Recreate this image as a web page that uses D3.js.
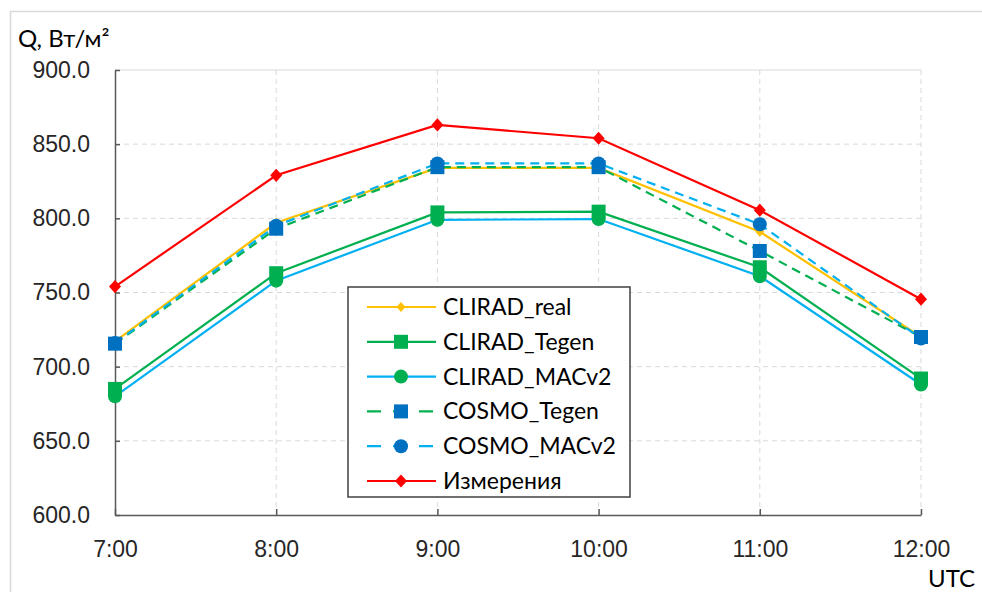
<!DOCTYPE html>
<html>
<head>
<meta charset="utf-8">
<script src="https://cdn.jsdelivr.net/npm/d3@7"></script>
<style>
  body { margin: 0; background: #fff; }
  svg { font-family: "Lato", "Open Sans", sans-serif; }
</style>
</head>
<body>
<div id="chart"></div>
<script>
const hours = ["7:00", "8:00", "9:00", "10:00", "11:00", "12:00"];
const yTicks = [600, 650, 700, 750, 800, 850, 900];

const clirad_real = [717, 797, 834, 834, 791, 720];
const clirad_tegen = [685, 763, 804, 804.5, 767, 692];
const clirad_macv2 = [680, 758, 799, 799.5, 761, 688];
const cosmo_tegen = [715.5, 793, 834.5, 834.5, 778, 720];
const cosmo_macv2 = [716, 795, 837, 837, 796, 719];
const measured = [754, 829, 863, 854, 805.5, 745.5];

const series = [
    { name: "CLIRAD_real", values: clirad_real, line: "#FFC000", fill: "#FFC000", shape: "diamond", size: 9, dash: null },
    { name: "CLIRAD_Tegen", values: clirad_tegen, line: "#00B050", fill: "#00B050", shape: "square", size: 14, dash: null },
    { name: "CLIRAD_MACv2", values: clirad_macv2, line: "#00B0F0", fill: "#00B050", shape: "circle", size: 14, dash: null },
    { name: "COSMO_Tegen", values: cosmo_tegen, line: "#00B050", fill: "#0070C0", shape: "square", size: 14, dash: "9,6" },
    { name: "COSMO_MACv2", values: cosmo_macv2, line: "#00B0F0", fill: "#0070C0", shape: "circle", size: 14, dash: "9,6" },
    { name: "Измерения", values: measured, line: "#FF0000", fill: "#FF0000", shape: "diamond", size: 12, dash: null }
];

const W = 982, H = 592;
const margin = { top: 70, right: 61, bottom: 77, left: 115 };
const width = W - margin.left - margin.right,
    height = H - margin.top - margin.bottom;

const svg = d3.select("#chart").append("svg")
    .attr("width", W)
    .attr("height", H);

// outer frame
svg.append("rect")
    .attr("x", 10.5).attr("y", 11.5)
    .attr("width", W).attr("height", H)
    .attr("fill", "none")
    .attr("stroke", "#d9d9d9")
    .attr("stroke-width", 1.5);

const g = svg.append("g")
    .attr("transform", `translate(${margin.left}, ${margin.top})`);

const x = d3.scalePoint().domain(hours).range([0, width]);
const y = d3.scaleLinear().domain([600, 900]).range([height, 0]);

// grid
g.selectAll(".hgrid")
    .data(yTicks.slice(1))
    .enter().append("line")
    .attr("x1", 0).attr("x2", width)
    .attr("y1", d => y(d)).attr("y2", d => y(d))
    .attr("stroke", "#d9d9d9")
    .attr("stroke-dasharray", d => d === 900 ? null : "5,4");

g.selectAll(".vgrid")
    .data(hours.slice(1))
    .enter().append("line")
    .attr("x1", d => x(d)).attr("x2", d => x(d))
    .attr("y1", 0).attr("y2", height)
    .attr("stroke", "#d9d9d9")
    .attr("stroke-dasharray", "5,4");

// axes
const yAxis = g.append("g")
    .call(d3.axisLeft(y).tickValues(yTicks).tickFormat(d3.format(".1f")).tickSizeInner(-5).tickSizeOuter(0).tickPadding(25));
const xAxis = g.append("g")
    .attr("transform", `translate(0, ${height})`)
    .call(d3.axisBottom(x).tickSizeInner(-6).tickSizeOuter(0).tickPadding(26));

[yAxis, xAxis].forEach(a => {
    a.select(".domain").attr("stroke", "#595959").attr("stroke-width", 1.5);
    a.selectAll(".tick line").attr("stroke", "#595959").attr("stroke-width", 1.5);
    a.selectAll("text").attr("fill", "#262626").style("font-size", "23px");
});

svg.append("text")
    .attr("x", 18).attr("y", 47)
    .attr("fill", "#000")
    .style("font-size", "24px")
    .text("Q, Вт/м²");

svg.append("text")
    .attr("x", 928).attr("y", 587)
    .attr("fill", "#000")
    .style("font-size", "24px")
    .text("UTC");

function drawMarker(sel, s) {
    const r = s.size / 2;
    if (s.shape === "circle") {
        sel.append("circle").attr("r", r).attr("fill", s.fill);
    } else if (s.shape === "square") {
        sel.append("rect").attr("x", -r).attr("y", -r)
            .attr("width", s.size).attr("height", s.size).attr("fill", s.fill);
    } else {
        sel.append("path")
            .attr("d", `M0,${-r * 1.1}L${r},0L0,${r * 1.1}L${-r},0Z`)
            .attr("fill", s.fill);
    }
}

const line = d3.line()
    .x((d, i) => x(hours[i]))
    .y(d => y(d));

series.forEach(s => {
    g.append("path")
        .datum(s.values)
        .attr("d", line)
        .attr("fill", "none")
        .attr("stroke", s.line)
        .attr("stroke-width", 2.2)
        .attr("stroke-dasharray", s.dash);
});

series.forEach(s => {
    g.selectAll(null)
        .data(s.values)
        .enter().append("g")
        .attr("transform", (d, i) => `translate(${x(hours[i])}, ${y(d)})`)
        .each(function () { drawMarker(d3.select(this), s); });
});

// legend
const legend = svg.append("g").attr("transform", "translate(348, 287)");
legend.append("rect")
    .attr("width", 282).attr("height", 210)
    .attr("fill", "#fff")
    .attr("stroke", "#404040")
    .attr("stroke-width", 1.5);

series.forEach((s, i) => {
    const row = legend.append("g").attr("transform", `translate(0, ${20 + i * 34.8})`);
    row.append("line")
        .attr("x1", 19).attr("x2", 88)
        .attr("stroke", s.line)
        .attr("stroke-width", 2.2)
        .attr("stroke-dasharray", s.dash ? "14,12" : null);
    drawMarker(row.append("g").attr("transform", "translate(53, 0)"), s);
    row.append("text")
        .attr("x", 95).attr("y", 8)
        .attr("fill", "#000")
        .style("font-size", "23px")
        .text(s.name);
});
</script>
</body>
</html>
